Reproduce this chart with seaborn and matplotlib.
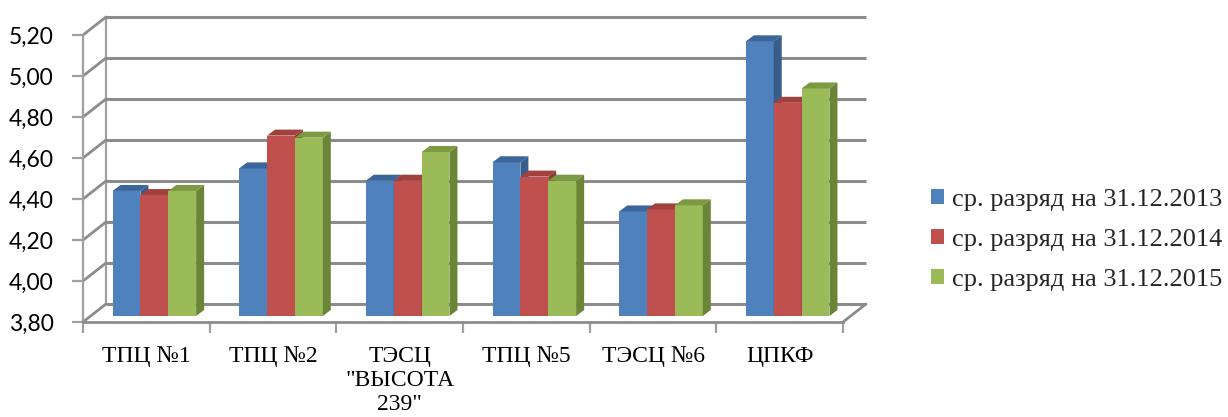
import numpy as np
import pandas as pd
import matplotlib
matplotlib.use("Agg")
import matplotlib.pyplot as plt
import seaborn as sns
from matplotlib.patches import Polygon, Patch
from matplotlib.ticker import FuncFormatter, FixedLocator

# ---------------- data ----------------
categories = ["ТПЦ №1", "ТПЦ №2", 'ТЭСЦ\n"ВЫСОТА\n239"', "ТПЦ №5", "ТЭСЦ №6", "ЦПКФ"]
series = ["ср. разряд на 31.12.2013", "ср. разряд на 31.12.2014", "ср. разряд на 31.12.2015"]
v2013 = [4.41, 4.52, 4.46, 4.55, 4.31, 5.14]
v2014 = [4.39, 4.68, 4.46, 4.48, 4.32, 4.84]
v2015 = [4.41, 4.67, 4.60, 4.46, 4.34, 4.91]
yticks = [3.80, 4.00, 4.20, 4.40, 4.60, 4.80, 5.00, 5.20]

front_colors = ["#4F81BD", "#C0504D", "#9BBB59"]
side_colors = ["#385D8A", "#8C3A38", "#6B8537"]
top_colors = ["#3C669A", "#A0413E", "#7C9A41"]

df = pd.DataFrame({
    "cat": categories * 3,
    "series": [series[0]] * 6 + [series[1]] * 6 + [series[2]] * 6,
    "val": v2013 + v2014 + v2015,
})

# ---------------- figure ----------------
sns.set_theme(style="white")
W, H = 1228, 417
fig = plt.figure(figsize=(W / 100, H / 100), dpi=100)
fig.patch.set_facecolor("white")
ax = fig.add_axes([83 / W, 1 - 322 / H, (843 - 83) / W, (322 - 35) / H])
ax.set_facecolor("none")

sns.barplot(data=df, x="cat", y="val", hue="series", order=categories,
            hue_order=series, palette=front_colors, width=0.66, gap=0,
            saturation=1, edgecolor="none", linewidth=0, ax=ax, legend=False,
            errorbar=None)

ymin, ymax = yticks[0], yticks[-1]
ax.set_xlim(-0.5, len(categories) - 0.5)
ax.set_ylim(ymin, ymax)

p0 = ax.transData.transform((0, 0))
p1 = ax.transData.transform((1, 1))
ppx, ppy = p1[0] - p0[0], p1[1] - p0[1]

def px(dx_pix):
    return dx_pix / ppx

def py(dy_pix):
    return dy_pix / ppy

# wall depth and bar depth (pixels)
wx, wy = px(23), py(18)
bsx, bsy = px(8), py(6)      # shift of bar plane
bdx, bdy = px(8), py(6)      # bar depth

grid_c = "#8C8C8C"
x0, x1 = -0.5, len(categories) - 0.5

# back wall gridlines
for t in yticks:
    ax.plot([x0 + wx, x1 + wx], [t + wy, t + wy], color=grid_c, lw=2.2,
            clip_on=False, zorder=0.5, solid_capstyle="butt")
    # left wall diagonals
    ax.plot([x0, x0 + wx], [t, t + wy], color=grid_c, lw=2.0,
            clip_on=False, zorder=0.5)
# back-left vertical
ax.plot([x0 + wx, x0 + wx], [ymin + wy, ymax + wy], color="#A0A0A0", lw=1.6,
        clip_on=False, zorder=0.4)
# floor right diagonal
ax.plot([x1, x1 + wx], [ymin, ymin + wy], color=grid_c, lw=2.0,
        clip_on=False, zorder=0.5)

# bars with 3D faces
for k, cont in enumerate(ax.containers):
    for rect in cont.patches:
        xl = rect.get_x() + bsx
        w = rect.get_width()
        top = rect.get_y() + rect.get_height()
        base = ymin + bsy
        ytop = top + bsy
        rect.set_x(xl)
        rect.set_y(base)
        rect.set_height(ytop - base)
        rect.set_clip_on(False)
        rect.set_zorder(2 + k)
        xr = xl + w
        side = Polygon([(xr, base), (xr, ytop), (xr + bdx, ytop + bdy), (xr + bdx, base + bdy)],
                       closed=True, facecolor=side_colors[k], edgecolor="none",
                       clip_on=False, zorder=2 + k)
        topf = Polygon([(xl, ytop), (xr, ytop), (xr + bdx, ytop + bdy), (xl + bdx, ytop + bdy)],
                       closed=True, facecolor=top_colors[k], edgecolor="none",
                       clip_on=False, zorder=2 + k)
        ax.add_patch(side)
        ax.add_patch(topf)

# spines
for s in ["top", "right"]:
    ax.spines[s].set_visible(False)
ax.spines["left"].set_color("#A0A0A0")
ax.spines["left"].set_linewidth(1.6)
ax.spines["bottom"].set_color(grid_c)
ax.spines["bottom"].set_linewidth(2.0)
ax.spines["left"].set_zorder(10)
ax.spines["bottom"].set_zorder(10)

# ticks
ax.set_yticks(yticks)
ax.yaxis.set_major_formatter(FuncFormatter(lambda v, p: f"{v:.2f}".replace(".", ",")))
ax.tick_params(axis="y", which="major", length=8, width=1.6, color="#A0A0A0",
               pad=13, labelsize=16.5, labelcolor="black", left=True)
for lab in ax.get_yticklabels():
    lab.set_fontfamily("Lato")

ax.set_xticks(range(len(categories)))
ax.set_xticklabels(categories, fontfamily="Liberation Serif", fontsize=17,
                   linespacing=1.2)
ax.xaxis.set_minor_locator(FixedLocator(np.arange(-0.5, len(categories), 1.0)))
ax.tick_params(axis="x", which="major", length=0, pad=17, labelcolor="black")
ax.tick_params(axis="x", which="minor", length=8, width=1.6, color="#A0A0A0",
               bottom=True)
ax.set_xlabel("")
ax.set_ylabel("")

# legend
handles = [Patch(facecolor=c, edgecolor="none") for c in front_colors]
fig.legend(handles, series, loc="center left",
           bbox_to_anchor=(931 / W, 1 - 240 / H), bbox_transform=fig.transFigure,
           frameon=False, prop={"family": "Liberation Serif", "size": 19},
           handlelength=0.5, handleheight=0.5, handletextpad=0.3,
           labelspacing=0.68, borderaxespad=0, borderpad=0)

fig.savefig("out.png", dpi=100, facecolor="white")
